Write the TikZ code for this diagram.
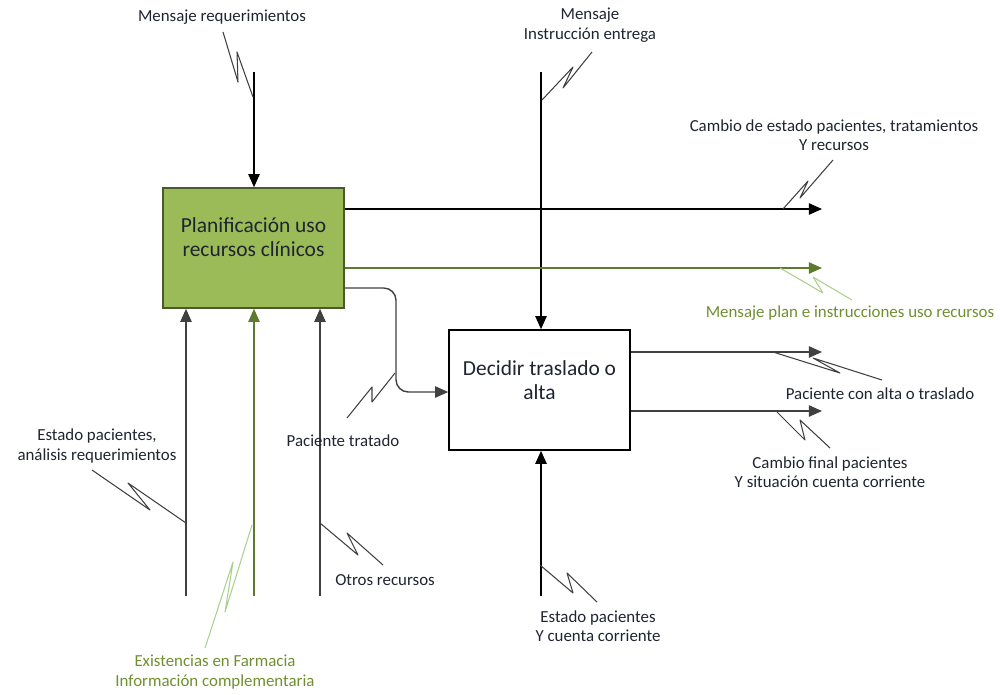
\documentclass[tikz,border=0pt]{standalone}
\usepackage{fontspec}
\setmainfont{Carlito}
\usetikzlibrary{arrows.meta}
\definecolor{boxgreen}{HTML}{9BBB59}
\definecolor{boxedge}{HTML}{4A5A2C}
\definecolor{flowgreen}{HTML}{5E7A2E}
\definecolor{lightgreen}{HTML}{A9D18E}
\definecolor{labelgreen}{HTML}{6F8F30}
\definecolor{flowgray}{HTML}{404040}
\definecolor{inktext}{HTML}{1F2430}
\tikzset{
  activity/.style={draw=boxedge, line width=0.9pt, minimum width=3.62cm, minimum height=2.4cm, inner sep=0pt},
  boxtext/.style={font=\fontsize{12.2}{13.5}\selectfont, align=center, text=inktext},
  lbl/.style={font=\fontsize{9.6}{11}\selectfont, align=center, text=inktext, inner sep=0pt},
  flow/.style={line width=0.8pt, -{Triangle[length=7.5pt,width=6.5pt]}},
  tick/.style={line width=0.6pt, line join=round, color=flowgray},
}
\begin{document}
\begin{tikzpicture}[x=0.02cm,y=-0.02cm]
\useasboundingbox (0,0) rectangle (1000,694);

% activity boxes
\node[activity, fill=boxgreen] (A) at (253.5,248) {};
\node[boxtext] (Atxt) at (253.5,237) {Planificación uso\\recursos clínicos};
\node[activity, fill=white, draw=black] (B) at (539.5,390) {};
\node[boxtext] (Btxt) at (539.5,380) {Decidir traslado o\\alta};

% flow end points
\coordinate (inA) at (254,72);
\coordinate (inB) at (541,72);
\coordinate (outA1) at (822,209);
\coordinate (outA2) at (822,268);
\coordinate (bendA) at (396,288);
\coordinate (bendB) at (396,392);
\coordinate (outB1) at (822,352);
\coordinate (outB2) at (822,411);
\coordinate (srcL) at (186,596);
\coordinate (srcM) at (254,596);
\coordinate (srcR) at (320,596);
\coordinate (srcB) at (541,596);

% flows
\draw[flow, color=black] (inA) -- (A.north -| inA);
\draw[flow, color=black] (inB) -- (B.north -| inB);
\draw[flow, color=black] (A.east |- outA1) -- (outA1);
\draw[flow, color=flowgreen] (A.east |- outA2) -- (outA2);
\draw[flow, color=flowgray, rounded corners=7] (A.east |- bendA) -- (bendA) -- (bendB) -- (B.west |- bendB);
\draw[flow, color=flowgray] (B.east |- outB1) -- (outB1);
\draw[flow, color=flowgray] (B.east |- outB2) -- (outB2);
\draw[flow, color=flowgray] (srcL) -- (A.south -| srcL);
\draw[flow, color=flowgreen] (srcM) -- (A.south -| srcM);
\draw[flow, color=flowgray] (srcR) -- (A.south -| srcR);
\draw[flow, color=black] (srcB) -- (B.south -| srcB);

% labels
\node[lbl] (l1) at (222,17) {Mensaje requerimientos};
\node[lbl] (l2) at (590,25) {Mensaje\\Instrucción entrega};
\node[lbl] (l3) at (834,135) {Cambio de estado pacientes, tratamientos\\Y recursos};
\node[lbl, text=labelgreen] (l4) at (850,313) {Mensaje plan e instrucciones uso recursos};
\node[lbl] (l5) at (343,441) {Paciente tratado};
\node[lbl] (l6) at (880,394) {Paciente con alta o traslado};
\node[lbl] (l7) at (830,472) {Cambio final pacientes\\Y situación cuenta corriente};
\node[lbl] (l8) at (598,626) {Estado pacientes\\Y cuenta corriente};
\node[lbl] (l9) at (97,446) {Estado pacientes,\\análisis requerimientos};
\node[lbl, text=labelgreen] (l10) at (215,672) {Existencias en Farmacia\\Información complementaria};
\node[lbl] (l11) at (385,580) {Otros recursos};

% squiggle ticks tying labels to flows
\draw[tick] (223,32) -- (238,82) -- (237,52) -- (253,97);
\draw[tick] (592,52) -- (563,88) -- (573,67) -- (542,100);
\draw[tick] (833,160) -- (800,198) -- (808,181) -- (783,209);
\draw[tick, color=lightgreen] (780,268) -- (823,293) -- (813,277) -- (852,300);
\draw[tick] (395,373) -- (372,402) -- (372,387) -- (347,418);
\draw[tick] (773,352) -- (840,373) -- (813,358) -- (882,380);
\draw[tick] (777,412) -- (805,440) -- (800,420) -- (830,448);
\draw[tick] (540,565) -- (573,593) -- (567,573) -- (597,602);
\draw[tick] (92,470) -- (150,510) -- (128,483) -- (186,523);
\draw[tick, color=lightgreen] (252,525) -- (225,612) -- (233,562) -- (205,648);
\draw[tick] (320,523) -- (358,555) -- (347,533) -- (383,565);
\end{tikzpicture}
\end{document}
